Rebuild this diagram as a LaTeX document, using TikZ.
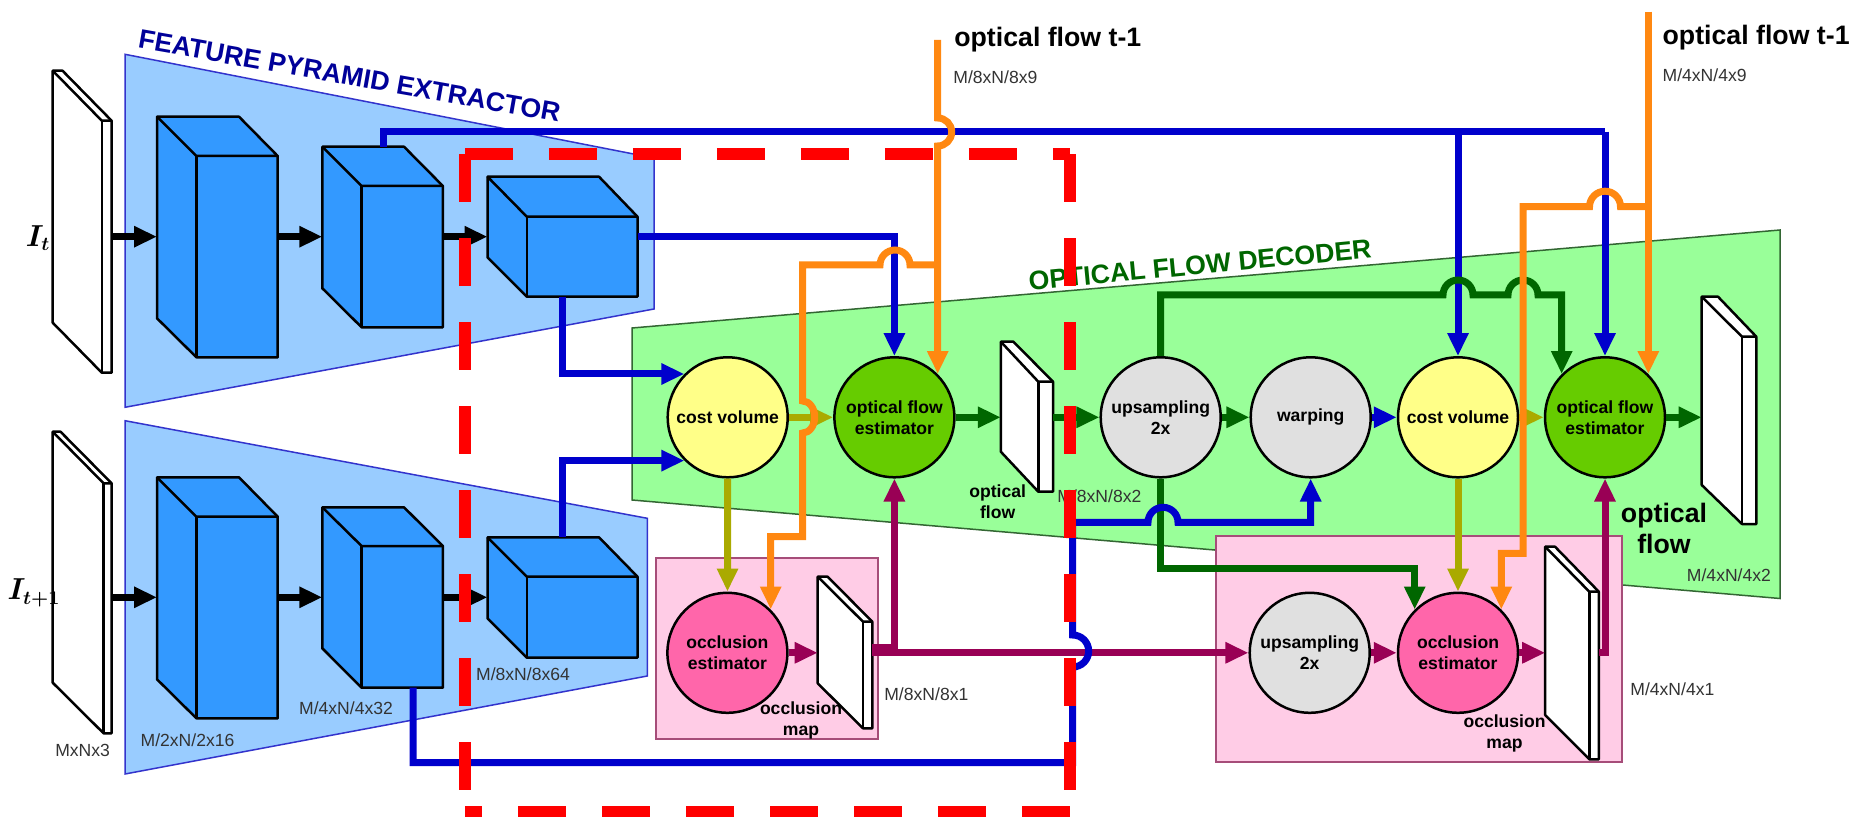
\documentclass[tikz,border=0pt]{standalone}
\usepackage[no-math]{fontspec}
\setmainfont{Liberation Sans}
\usetikzlibrary{arrows.meta}
\definecolor{panelblue}{HTML}{99CCFF}
\definecolor{edgeblue}{HTML}{3333CC}
\definecolor{cubeblue}{HTML}{3399FF}
\definecolor{panelgreen}{HTML}{99FF99}
\definecolor{edgegreen}{HTML}{336633}
\definecolor{panelpink}{HTML}{FFCCE6}
\definecolor{edgepink}{HTML}{A64D79}
\definecolor{discyellow}{HTML}{FFFF88}
\definecolor{discgreen}{HTML}{66CC00}
\definecolor{discpink}{HTML}{FF66AA}
\definecolor{discgrey}{HTML}{E0E0E0}
\definecolor{wireblue}{HTML}{0000CC}
\definecolor{wiregreen}{HTML}{006600}
\definecolor{wireolive}{HTML}{AAAA00}
\definecolor{wireorange}{HTML}{FF8811}
\definecolor{wiremaroon}{HTML}{990055}
\definecolor{titleblue}{HTML}{000099}
\definecolor{sizegrey}{HTML}{333333}
\newcommand{\smallbold}{\fontsize{10}{12}\selectfont\bfseries}
\newcommand{\largebold}{\fontsize{15.2}{17.6}\selectfont\bfseries}
\newcommand{\blockcolor}{cubeblue}
\newcommand{\block}[9]{
\draw[blockline,fill=\blockcolor] (#2,#6) -- (#3,#6) -- (#5,#7) -- (#5,#9) -- (#4,#9) -- (#2,#8) -- cycle;
\draw[blockline] (#2,#6) -- (#4,#7) -- (#5,#7);
\draw[blockline] (#4,#7) -- (#4,#9);
\coordinate (#1-w) at (#2,#8);
\coordinate (#1-e) at (#5,#8);
}
\tikzset{
blockline/.style={draw=black,line width=0.05cm,line join=round},
disc/.style={circle,draw=black,line width=0.05cm,minimum size=2.4cm,inner sep=0pt,align=center,font=\smallbold},
sizelabel/.style={inner sep=0pt,text=sizegrey,font=\fontsize{10}{12}\selectfont},
namelabel/.style={inner sep=0pt,align=center,font=\smallbold},
biglabel/.style={inner sep=0pt,align=center,font=\largebold},
wire/.style={line width=0.14cm},
wirearrow/.style={wire,-{Triangle[length=0.46cm,width=0.4cm]}},
redside/.style={draw=red,line width=0.24cm,dash pattern=on 0.96cm off 0.72cm}
}
\begin{document}
\begin{tikzpicture}[x=0.02cm,y=-0.02cm]
\useasboundingbox (0,0) rectangle (1852,817);
\coordinate (rowU) at (0,236.7);
\coordinate (rowL) at (0,597.3);

\draw[edgeblue,fill=panelblue,line width=0.03cm] (125,54.3) -- (654,158) -- (654,309) -- (125,407.3) -- cycle;
\draw[edgeblue,fill=panelblue,line width=0.03cm] (125,420.7) -- (647.3,518.3) -- (647.3,676) -- (125,774) -- cycle;
\draw[edgegreen,fill=panelgreen,line width=0.03cm] (632,328) -- (1780,230) -- (1780,598.5) -- (632,500) -- cycle;
\draw[edgepink,fill=panelpink,line width=0.04cm] (656.4,558.3) rectangle (877.8,739);
\draw[edgepink,fill=panelpink,line width=0.04cm] (1216.4,535.7) rectangle (1622.3,761.7);

\renewcommand{\blockcolor}{white}
\block{frameU}{52.7}{62.5}{101.8}{111.6}{70.7}{120.7}{322.7}{372.7}
\block{frameL}{52.7}{60.5}{103.6}{111.6}{431.7}{483.3}{682.7}{733.3}
\block{slabA}{1000.8}{1013.4}{1038.3}{1053}{341.7}{381.7}{451.7}{491.7}
\block{slabB}{1701.7}{1718}{1742}{1756.3}{296.7}{336.7}{485}{524}
\block{slabC}{817.7}{827.6}{863}{872.3}{576.7}{621.7}{683.3}{728.3}
\block{slabD}{1545.2}{1555}{1589.3}{1598.8}{546.7}{591.7}{715}{759.3}
\renewcommand{\blockcolor}{cubeblue}
\block{cubeUa}{157}{239}{196.4}{277.7}{116.7}{156}{318.3}{357.3}
\block{cubeUb}{322.3}{404}{361.6}{442.9}{146.7}{186}{288.3}{327.3}
\block{cubeUc}{487.5}{599}{526.8}{637.5}{176.7}{216.7}{257.3}{296.7}
\block{cubeLa}{157}{239}{196.4}{277.7}{477.3}{516.7}{679.3}{718.3}
\block{cubeLb}{322.3}{404}{361.6}{442.9}{507.3}{546}{648.3}{687.7}
\block{cubeLc}{487.5}{599}{526.8}{637.5}{537.3}{576.7}{618.3}{657.7}

\node[disc,fill=discyellow] (costA) at (727.7,417.3) {cost volume};
\node[disc,fill=discgreen] (flowA) at (894.4,417.3) {optical flow\\estimator};
\node[disc,fill=discgrey] (upA) at (1160.7,417.3) {upsampling\\2x};
\node[disc,fill=discgrey] (warp) at (1310.7,417.3) {warping};
\node[disc,fill=discyellow] (costB) at (1458,417.3) {cost volume};
\node[disc,fill=discgreen] (flowB) at (1605,417.3) {optical flow\\estimator};
\node[disc,fill=discpink] (occA) at (727.4,652.8) {occlusion\\estimator};
\node[disc,fill=discgrey] (upB) at (1309.7,652.8) {upsampling\\2x};
\node[disc,fill=discpink] (occB) at (1458,652.8) {occlusion\\estimator};

\node[inner sep=0pt,font=\fontsize{16}{18}\selectfont] (inU) at (38,238) {{\boldmath $I_t$}};
\node[inner sep=0pt,font=\fontsize{16}{18}\selectfont] (inL) at (34,593) {{\boldmath $I_{t+1}$}};
\node[inner sep=0pt,rotate=-10,text=titleblue,font=\largebold] (titleU) at (349.5,76) {FEATURE PYRAMID EXTRACTOR};
\node[inner sep=0pt,rotate=5.5,text=wiregreen,font=\largebold] (titleD) at (1200,265) {OPTICAL FLOW DECODER};
\node[biglabel,anchor=west] (prevA) at (954,40) {optical flow t-1};
\node[biglabel,anchor=west] (prevB) at (1662.3,38) {optical flow t-1};
\node[biglabel] (flowName) at (1664,528) {optical\\flow};
\node[namelabel] (slabName) at (997.6,501.7) {optical\\flow};
\node[namelabel] (mapA) at (801,720.5) {occlusion\\map};
\node[namelabel] (mapB) at (1504.5,733.5) {occlusion\\map};
\node[sizelabel] (szA) at (82.6,750) {MxNx3};
\node[sizelabel] (szB) at (187.5,740) {M/2xN/2x16};
\node[sizelabel] (szC) at (346,708) {M/4xN/4x32};
\node[sizelabel] (szD) at (523,674) {M/8xN/8x64};
\node[sizelabel,anchor=west] (szE) at (953,77.3) {M/8xN/8x9};
\node[sizelabel,anchor=west] (szF) at (1662.3,75) {M/4xN/4x9};
\node[sizelabel,anchor=west] (szG) at (1057,496.7) {M/8xN/8x2};
\node[sizelabel,anchor=west] (szH) at (884,694) {M/8xN/8x1};
\node[sizelabel,anchor=west] (szI) at (1630,689) {M/4xN/4x1};
\node[sizelabel,anchor=west] (szJ) at (1686.6,575) {M/4xN/4x2};

\draw[wirearrow,black] (frameU-e |- rowU) -- (cubeUa-w |- rowU);
\draw[wirearrow,black] (cubeUa-e |- rowU) -- (cubeUb-w |- rowU);
\draw[wirearrow,black] (cubeUb-e |- rowU) -- (cubeUc-w |- rowU);
\draw[wirearrow,black] (frameL-e |- rowL) -- (cubeLa-w |- rowL);
\draw[wirearrow,black] (cubeLa-e |- rowL) -- (cubeLb-w |- rowL);
\draw[wirearrow,black] (cubeLb-e |- rowL) -- (cubeLc-w |- rowL);

\coordinate (topUb) at (383,146.7);
\coordinate (botUc) at (562.5,296.7);
\coordinate (topLc) at (562.5,537.3);
\coordinate (botLb) at (413,687.7);
\draw[wire,wireblue] (topUb) -- (383,131.7) -- (1605,131.7);
\draw[wirearrow,wireblue] (flowB.north |- 0,131.7) -- (flowB.north);
\draw[wirearrow,wireblue] (costB.north |- 0,131.7) -- (costB.north);
\draw[wirearrow,wireblue] (cubeUc-e |- rowU) -- (flowA.north |- rowU) -- (flowA.north);
\draw[wirearrow,wireblue] (botUc) -- (botUc |- costA.135) -- (costA.135);
\draw[wirearrow,wireblue] (topLc) -- (topLc |- costA.225) -- (costA.225);

\draw[wirearrow,wiregreen] (flowA) -- (slabA-w |- flowA);
\draw[wirearrow,wiregreen] (slabA-e |- flowA) -- (upA);
\draw[wirearrow,wiregreen] (upA) -- (warp);
\draw[wirearrow,wiregreen] (flowB) -- (slabB-w |- flowB);
\draw[wirearrow,wireblue] (warp) -- (costB);
\draw[wirearrow,wiregreen] (upA.south) -- (upA.south |- 0,568) -- (occB.135 |- 0,568) -- (occB.135);

\draw[wirearrow,wiremaroon] (occA) -- (slabC-w |- occA);
\draw[wirearrow,wiremaroon] (slabC-e |- occA) -- (upB);
\draw[wirearrow,wiremaroon] (slabC-e |- 0,647.5) -- (flowA.south |- 0,647.5) -- (flowA.south);
\draw[wirearrow,wiremaroon] (upB) -- (occB);
\draw[wirearrow,wiremaroon] (occB) -- (slabD-w |- occB);
\draw[wirearrow,wiremaroon] (slabD-e |- occB) -- (flowB.south |- occB) -- (flowB.south);

\draw[wirearrow,wireblue] (botLb) -- (413,762.7) -- (1072.7,762.7) -- (1072.7,667) arc[start angle=-90,end angle=90,radius=0.32cm] -- (1072.7,522.3) -- (1148,522.3) arc[start angle=180,end angle=0,radius=0.3cm] -- (warp.south |- 0,522.3) -- (warp.south);

\draw[wirearrow,wireolive] (costA) -- (flowA);
\draw[wirearrow,wireolive] (costA) -- (occA);
\draw[wirearrow,wireolive] (costB) -- (flowB);
\draw[wirearrow,wireolive] (costB) -- (occB);

\draw[wirearrow,wiregreen] (upA.north) -- (upA.north |- 0,295) -- (1443,295) arc[start angle=180,end angle=0,radius=0.3cm] -- (1508,295) arc[start angle=180,end angle=0,radius=0.3cm] -- (flowB.135 |- 0,295) -- (flowB.135);

\coordinate (orTopA) at (flowA.45 |- 0,40);
\coordinate (orTopB) at (flowB.45 |- 0,11.7);
\draw[wirearrow,wireorange] (orTopA) -- ++(0,78) arc[start angle=90,end angle=-90,radius=0.28cm] -- (flowA.45);
\draw[wirearrow,wireorange] (orTopA |- 0,265) -- (910,265) arc[start angle=0,end angle=180,radius=0.3cm] -- (802.7,265) -- (802.7,401) arc[start angle=90,end angle=-90,x radius=0.24cm,y radius=0.32cm] -- (802.7,536.7) -- (occA.45 |- 0,536.7) -- (occA.45);
\draw[wirearrow,wireorange] (orTopB) -- (flowB.45);
\draw[wirearrow,wireorange] (orTopB |- 0,206.7) -- (1620.5,206.7) arc[start angle=0,end angle=180,radius=0.31cm] -- (1523,206.7) -- (1523,553.3) -- (occB.45 |- 0,553.3) -- (occB.45);

\coordinate (redNW) at (465,154.3);
\coordinate (redNE) at (1070,154.3);
\coordinate (redSW) at (465,812);
\coordinate (redSE) at (1070,812);
\draw[redside] (redNW) -- (redNE);
\draw[redside] (redNW) -- (redSW);
\draw[redside] (redNE) -- (redSE);
\draw[redside] (redSE) -- (redSW);
\end{tikzpicture}
\end{document}
